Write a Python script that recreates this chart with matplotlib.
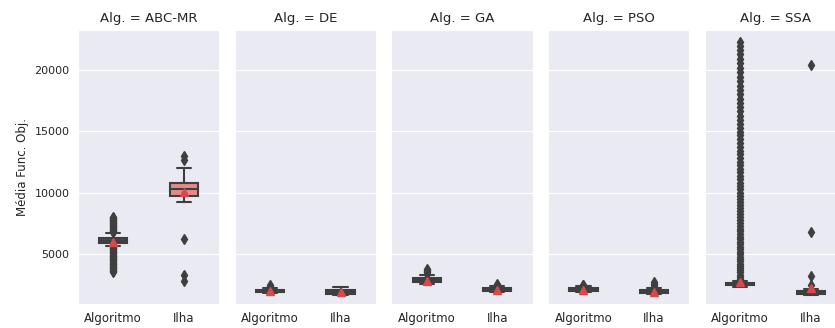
import numpy as np
import matplotlib
matplotlib.use("Agg")
import matplotlib.pyplot as plt
import seaborn as sns

sns.set_style("darkgrid")
plt.rcParams['font.family'] = ['DejaVu Sans']

algs = ["ABC-MR", "DE", "GA", "PSO", "SSA"]
groups = ["Algoritmo", "Ilha"]

# box stats per algorithm: (Algoritmo, Ilha)
q1 = {"ABC-MR": (5920, 9750), "DE": (1900, 1720), "GA": (2720, 2000), "PSO": (1960, 1800), "SSA": (2450, 1760)}
med = {"ABC-MR": (6060, 10300), "DE": (1980, 1880), "GA": (2850, 2100), "PSO": (2070, 1900), "SSA": (2540, 1850)}
q3 = {"ABC-MR": (6300, 10780), "DE": (2060, 2050), "GA": (3050, 2200), "PSO": (2200, 2050), "SSA": (2650, 1960)}
wlo = {"ABC-MR": (5650, 9240), "DE": (1820, 1620), "GA": (2560, 1900), "PSO": (1850, 1700), "SSA": (2300, 1650)}
whi = {"ABC-MR": (6700, 12050), "DE": (2200, 2300), "GA": (3300, 2350), "PSO": (2350, 2250), "SSA": (2780, 2150)}
means = {"ABC-MR": (6000, 10080), "DE": (1990, 1860), "GA": (2820, 2080), "PSO": (2060, 1920), "SSA": (2720, 2250)}

fliers = {
    "ABC-MR": (
        [6750, 6820, 6880, 6940, 6990, 7050, 7100, 7160, 7220, 7280, 7330, 7390,
         7450, 7500, 7560, 7620, 7680, 7730, 7790, 7850, 7900, 7960, 8010,
         5580, 5510, 5450, 5380, 5320, 5250, 5190, 5120, 5060, 4990, 4930, 4860,
         4800, 4730, 4670, 4600, 4540, 4470, 4410, 4340, 4280, 4210, 4150, 4080,
         4020, 3950, 3890, 3820, 3760, 3690, 3630, 3560, 3500],
        [12700, 13000, 6200, 3300, 2750]),
    "DE": ([2260, 2340, 2420], []),
    "GA": ([3380, 3480, 3580, 3680, 3800], [2420, 2500]),
    "PSO": ([2420, 2480], [2320, 2420, 2560, 2680]),
    "SSA": (
        [2780, 2950, 3120, 3300, 3480, 3650, 3830, 4010, 4200, 4390, 4580, 4770,
         4960, 5160, 5360, 5560, 5770, 5980, 6190, 6400, 6620, 6840, 7060, 7290,
         7520, 7750, 7990, 8230, 8470, 8720, 8970, 9220, 9480, 9740, 10000, 10270,
         10540, 10810, 11090, 11370, 11650, 11940, 12230, 12520, 12820, 13120,
         13420, 13730, 14040, 14350, 14670, 14990, 15310, 15640, 15970, 16300,
         16640, 16980, 17320, 17670, 18020, 18370, 18730, 19090, 19450, 19820,
         20190, 20560, 20930, 21300, 21670, 22000, 22280],
        [20400, 6800, 3200, 2450]),
}

gray = "#3f3f3f"
fig = plt.figure(figsize=(8.35, 3.28), dpi=100)
left, width, gap = 0.0934, 0.169, 0.0187
bottom, height = 0.073, 0.836

axes = []
for i, alg in enumerate(algs):
    ax = fig.add_axes([left + i * (width + gap), bottom, width, height],
                      sharey=axes[0] if axes else None)
    axes.append(ax)
    stats = []
    for j in range(2):
        stats.append(dict(q1=q1[alg][j], med=med[alg][j], q3=q3[alg][j],
                          whislo=wlo[alg][j], whishi=whi[alg][j],
                          mean=means[alg][j], fliers=fliers[alg][j]))
    bp = ax.bxp(stats, positions=[0, 1], widths=0.4, patch_artist=True,
                showmeans=True,
                boxprops=dict(edgecolor=gray, linewidth=1.5),
                medianprops=dict(color=gray, linewidth=1.5),
                whiskerprops=dict(color=gray, linewidth=1.5),
                capprops=dict(color=gray, linewidth=1.5),
                flierprops=dict(marker="d", markerfacecolor=gray,
                                markeredgecolor=gray, markersize=5),
                meanprops=dict(marker="^", markerfacecolor="#d9484a",
                               markeredgecolor="#d9484a", markersize=6))
    for j, box in enumerate(bp["boxes"]):
        box.set_facecolor("#e58a8a" if (alg == "ABC-MR" and j == 1) else "#4a4a4a")
    ax.set_xlim(-0.5, 1.5)
    ax.set_xticks([0, 1])
    ax.set_xticklabels(groups, fontsize=8.5)
    ax.xaxis.grid(False)
    ax.tick_params(axis="both", length=0, pad=6)
    ax.set_title("Alg. = " + alg, fontsize=9.5, color="#262626", pad=6)
    if i == 0:
        ax.set_ylabel("Média Func. Obj.", fontsize=8.5, color="#262626")
        ax.tick_params(axis="y", labelsize=8)
    else:
        ax.tick_params(axis="y", labelleft=False)

axes[0].set_ylim(900, 23300)
axes[0].set_yticks([5000, 10000, 15000, 20000])

plt.savefig("out.png", dpi=100)
